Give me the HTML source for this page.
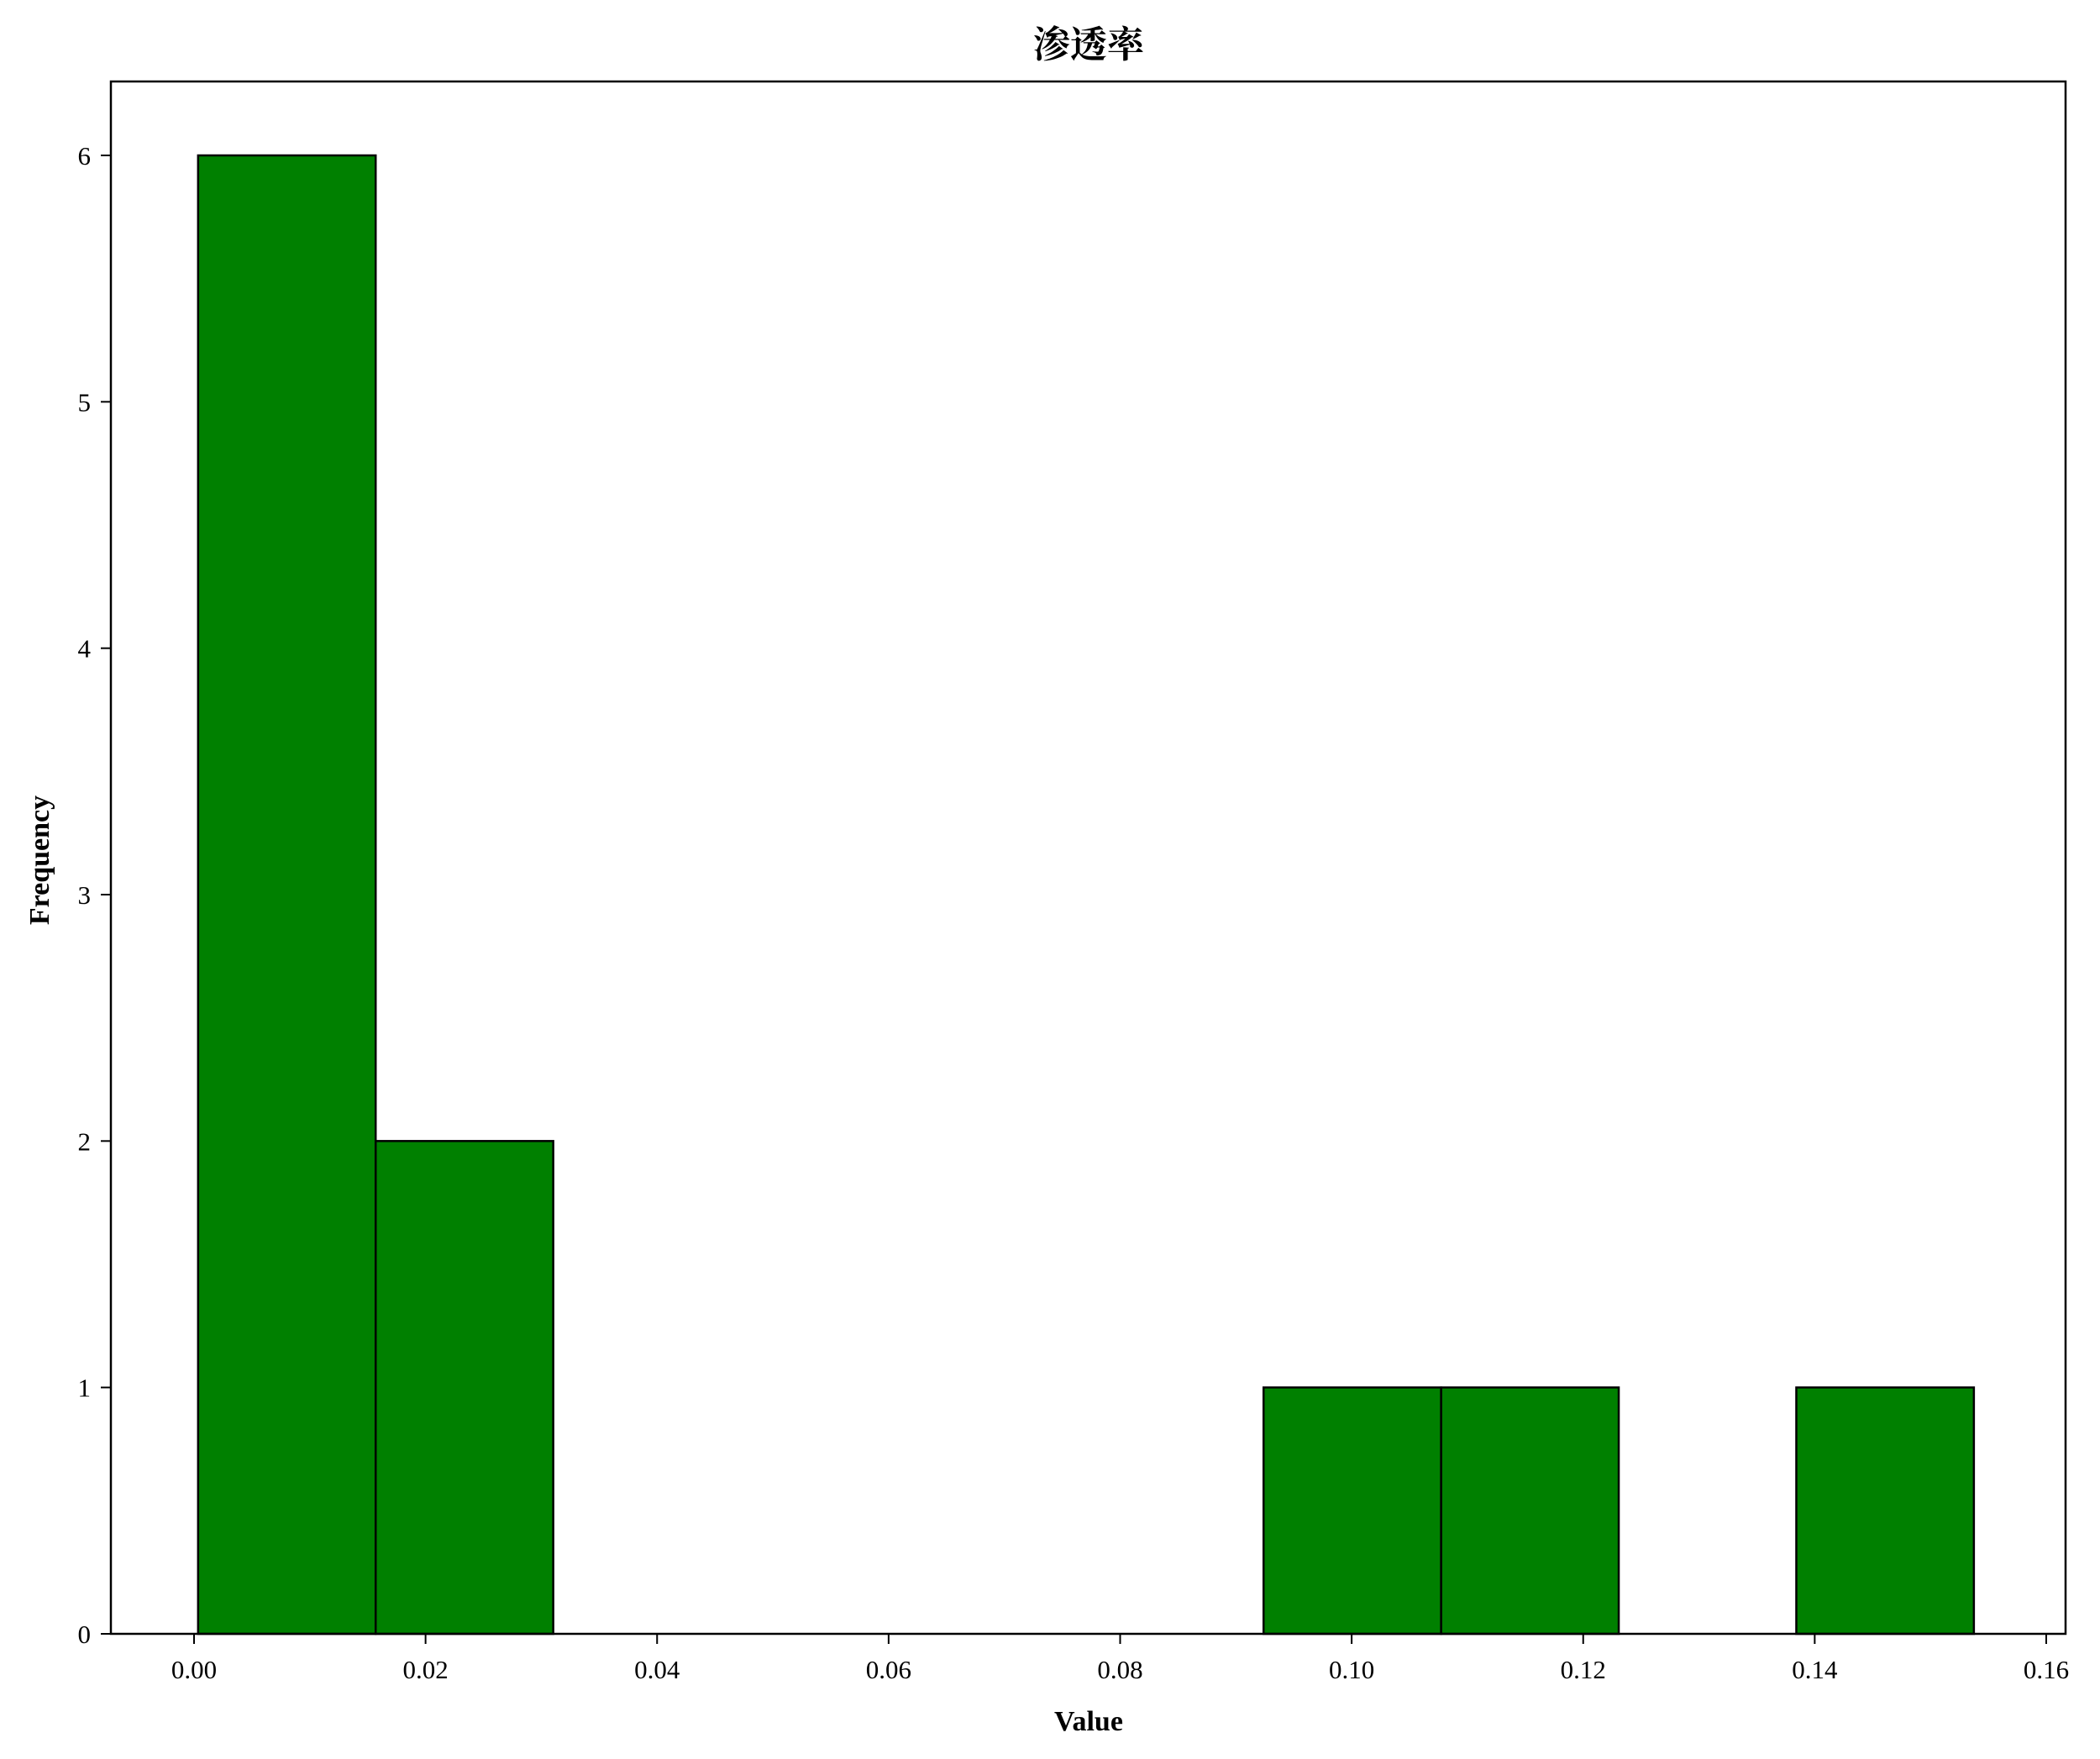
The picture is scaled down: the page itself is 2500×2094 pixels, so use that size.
<!DOCTYPE html>
<html><head><meta charset="utf-8"><style>
html,body{margin:0;padding:0;background:#fff;}
svg{display:block;font-family:"Liberation Serif","Noto Serif CJK SC",serif;}
</style></head><body>
<svg id="chart" width="2500" height="2094" viewBox="0 0 2500 2094" xmlns="http://www.w3.org/2000/svg">
<rect x="0" y="0" width="2500" height="2094" fill="#fff"/>
<text x="1296" y="68" text-anchor="middle" font-size="44" font-weight="bold" font-family="'Liberation Serif','Noto Serif CJK SC',serif">渗透率</text>
<g id="bars"></g>
<rect x="132" y="97" width="2327" height="1848" fill="none" stroke="#000" stroke-width="2.5"/>
<g id="xticks"></g><g id="yticks"></g>
<text x="1296" y="2060" text-anchor="middle" font-size="34" font-weight="bold">Value</text>
<text x="58" y="1024" text-anchor="middle" font-size="34" font-weight="bold" transform="rotate(-90 58 1024)">Frequency</text>
</svg>
<script>
const binEdges=[0.00035,0.01569,0.03103,0.04637,0.06171,0.07705,0.09239,0.10773,0.12307,0.13841,0.15375];
const counts=[6,2,0,0,0,0,1,1,0,1];
const xTicks=[0,0.02,0.04,0.06,0.08,0.10,0.12,0.14,0.16];
const xTickLabels=["0.00","0.02","0.04","0.06","0.08","0.10","0.12","0.14","0.16"];
const yTicks=[0,1,2,3,4,5,6];
const NS="http://www.w3.org/2000/svg";
function xs(v){return 231+(v/0.16)*(2436-231);}
function ys(v){return 1945-(v/6)*(1945-185);}
const bars=document.getElementById('bars');
for(let i=0;i<counts.length;i++){
 const r=document.createElementNS(NS,'rect');
 const x0=xs(binEdges[i]),x1=xs(binEdges[i+1]);
 r.setAttribute('x',x0);r.setAttribute('width',x1-x0);
 r.setAttribute('y',ys(counts[i]));r.setAttribute('height',ys(0)-ys(counts[i]));
 r.setAttribute('fill','#008000');r.setAttribute('stroke','#000');r.setAttribute('stroke-width','2.5');
 
 
 bars.appendChild(r);
}
const xt=document.getElementById('xticks');
xTicks.forEach((v,i)=>{
 const l=document.createElementNS(NS,'line');
 l.setAttribute('x1',xs(v));l.setAttribute('x2',xs(v));l.setAttribute('y1',1945);l.setAttribute('y2',1957);
 l.setAttribute('stroke','#000');l.setAttribute('stroke-width','2');
 
 
 xt.appendChild(l);
 const t=document.createElementNS(NS,'text');
 t.setAttribute('x',xs(v));t.setAttribute('y',1998);t.setAttribute('text-anchor','middle');t.setAttribute('font-size','31');
 t.textContent=xTickLabels[i];
 
 
 xt.appendChild(t);
});
const yt=document.getElementById('yticks');
yTicks.forEach(v=>{
 const l=document.createElementNS(NS,'line');
 l.setAttribute('x1',120);l.setAttribute('x2',132);l.setAttribute('y1',ys(v));l.setAttribute('y2',ys(v));
 l.setAttribute('stroke','#000');l.setAttribute('stroke-width','2');
 
 
 yt.appendChild(l);
 const t=document.createElementNS(NS,'text');
 t.setAttribute('x',108);t.setAttribute('y',ys(v)+11);t.setAttribute('text-anchor','end');t.setAttribute('font-size','31');
 t.textContent=String(v);
 
 
 yt.appendChild(t);
});
</script>
</body></html>
